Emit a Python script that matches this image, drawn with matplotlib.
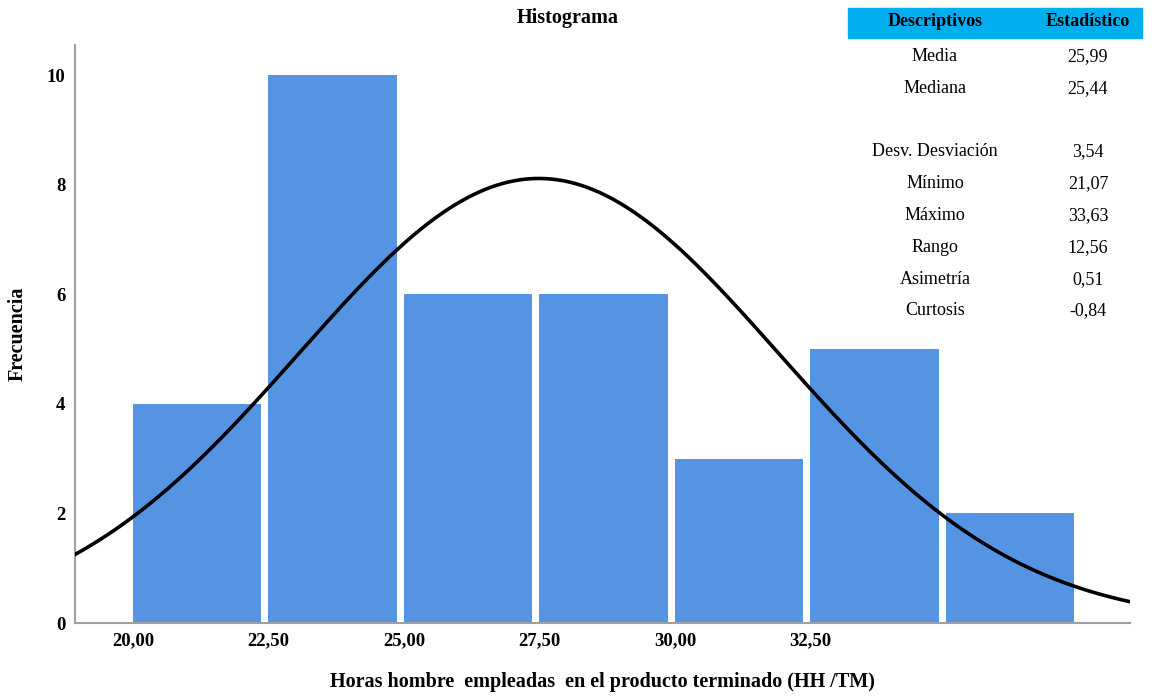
import numpy as np
import matplotlib.pyplot as plt
from matplotlib.patches import Rectangle

# histogram data (bins of width 2 starting at 20)
bin_left = [20, 22, 24, 26, 28, 30, 32]
freq = [4, 10, 6, 6, 3, 5, 2]
bin_width = 2

# tick positions and their labels as they appear on the chart
xtick_pos = [20, 22, 24, 26, 28, 30]
xtick_labels = ["20,00", "22,50", "25,00", "27,50", "30,00", "32,50"]
ytick_pos = [0, 2, 4, 6, 8, 10]

# descriptive statistics
media = 25.99
desv = 3.54
stat_names = ["Media", "Mediana", "", "Desv. Desviación", "Mínimo", "Máximo",
              "Rango", "Asimetría", "Curtosis"]
stat_values = ["25,99", "25,44", "", "3,54", "21,07", "33,63", "12,56", "0,51", "-0,84"]

plt.rcParams['font.family'] = ['Liberation Serif', 'DejaVu Serif']

fig = plt.figure(figsize=(11.52, 6.97), dpi=100)
ax = fig.add_axes([75 / 1152, 74 / 697, 1055 / 1152, 578 / 697])

ax.bar(bin_left, freq, width=bin_width * 0.945, align='edge', color='#5594E3', zorder=2)

n = sum(freq)
x0, x1 = 19.144, 34.716
xs = np.linspace(x0, x1, 400)
ys = n * bin_width / (desv * np.sqrt(2 * np.pi)) * np.exp(-0.5 * ((xs - media) / desv) ** 2)
ax.plot(xs, ys, color='black', lw=2.6, zorder=3)

ax.set_xlim(x0, x1)
ax.set_ylim(0, 10.55)
ax.set_xticks(xtick_pos)
ax.set_xticklabels(xtick_labels)
ax.set_yticks(ytick_pos)
ax.tick_params(axis='x', length=0, labelsize=13.5, pad=7)
ax.tick_params(axis='y', length=0, labelsize=13.5, pad=7)
for lab in ax.get_xticklabels() + ax.get_yticklabels():
    lab.set_fontweight('bold')
for s in ['top', 'right']:
    ax.spines[s].set_visible(False)
for s in ['left', 'bottom']:
    ax.spines[s].set_color('#a0a0a0')
    ax.spines[s].set_linewidth(1.5)

ax.set_xlabel("Horas hombre  empleadas  en el producto terminado (HH /TM)",
              fontsize=14.5, fontweight='bold')
ax.xaxis.set_label_coords(0.5, -0.085)
ax.set_ylabel("Frecuencia", fontsize=14.5, fontweight='bold')
ax.yaxis.set_label_coords(-0.045, 0.5)
fig.text(568 / 1152, 1 - 18 / 697, "Histograma", fontsize=14.5, fontweight='bold',
         ha='center', va='center')

# table of descriptives
fig.patches.append(Rectangle((848 / 1152, 1 - 38 / 697), 294 / 1152, 30 / 697,
                             transform=fig.transFigure, color='#00AEEF', zorder=5))
fig.text(935 / 1152, 1 - 22 / 697, "Descriptivos", fontsize=13, fontweight='bold',
         ha='center', va='center', zorder=6)
fig.text(1088 / 1152, 1 - 22 / 697, "Estadístico", fontsize=13, fontweight='bold',
         ha='center', va='center', zorder=6)
row_y = 56.5
for name, val in zip(stat_names, stat_values):
    fig.text(935 / 1152, 1 - row_y / 697, name, fontsize=13, ha='center', va='center')
    fig.text(1088 / 1152, 1 - row_y / 697, val, fontsize=13, ha='center', va='center')
    row_y += 31.8

fig.savefig("out.png", dpi=100)
